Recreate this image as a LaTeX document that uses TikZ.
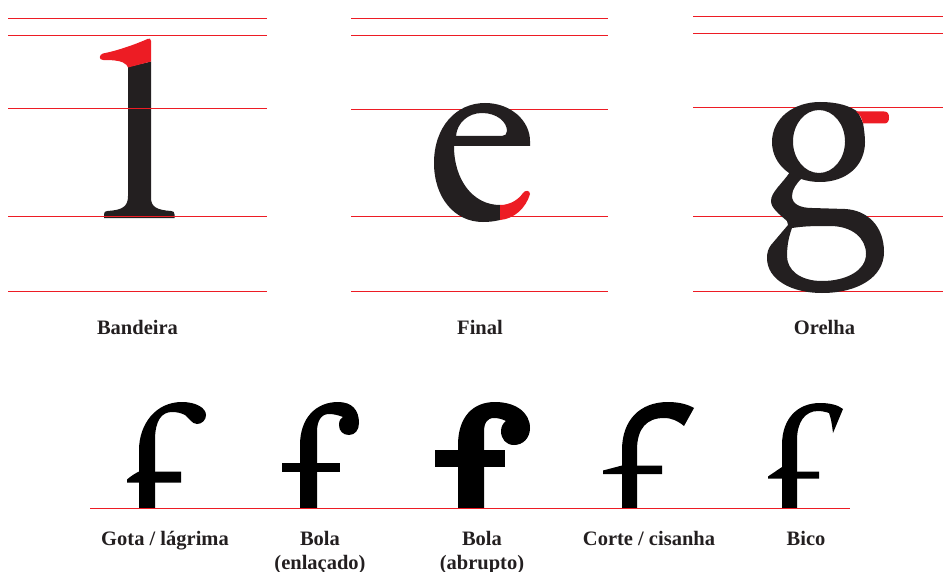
\documentclass[tikz,border=0pt]{standalone}
\usepackage{fontspec}
\setmainfont{Liberation Serif}
\definecolor{guidered}{HTML}{ED1C24}
\definecolor{ink}{HTML}{231F20}
\begin{document}
\begin{tikzpicture}[x=1pt,y=-1pt,
  guide/.style={guidered,line width=0.9pt},
  glyph/.style={fill=ink,draw=none},
  fglyph/.style={fill=black,draw=none},
  part/.style={fill=guidered,draw=none},
  lbl/.style={text=ink,font=\fontsize{20.5}{24}\selectfont\bfseries,anchor=base,inner sep=0pt}]
\useasboundingbox (0,0) rectangle (944,572);

% l with its flag
\fill[glyph] (128,67) -- (151,61.5) -- (151,198) .. controls (151,207) and (157,210) .. (171,211)
  .. controls (173.5,211) and (174.5,212) .. (174.5,214.5) -- (174.5,218) -- (104,218) -- (104,214.5)
  .. controls (104,212) and (105,211) .. (107.5,211) .. controls (122,210) and (128,207) .. (128,196) -- cycle;
\fill[part] (128,67.5) -- (151,61.5) -- (151,41) .. controls (151,38.5) and (149.5,38) .. (147.5,39)
  .. controls (134,45) and (116,51) .. (103,53.5) .. controls (99,54.5) and (98.5,60) .. (103,60)
  .. controls (112,60) and (119,60.5) .. (123,62.5) .. controls (126,64) and (127.5,65.5) .. (128,67.5) -- cycle;
\foreach \y in {18,35,108.5,216.5,291}
  \draw[guide] (8,\y) -- (267,\y);

% e with its terminal
\foreach \y in {18,35,109,216.5,291}
  \draw[guide] (351,\y) -- (608,\y);
\fill[glyph,even odd rule] (500,205) -- (500,220) .. controls (494,221.5) and (488,222) .. (483,222)
  .. controls (454,222) and (434,197) .. (434,163) .. controls (434,127) and (456,103) .. (485,103)
  .. controls (511,103) and (530,121) .. (530,141) -- (530,146) -- (454,146)
  .. controls (454,180) and (473,205) .. (500,205) -- cycle
  (456,136) .. controls (457,123) and (468,113) .. (482,113) .. controls (497,113) and (507,122) .. (507,131)
  .. controls (507,134) and (505,136) .. (502,136) -- cycle;
\fill[part] (500,205) .. controls (510,205) and (518,200) .. (523,193) .. controls (525,190) and (530,190) .. (530,194)
  .. controls (526,208) and (514,219) .. (500,220) -- cycle;

% g with its ear
\foreach \y in {16,33.5,107.5,216,291}
  \draw[guide] (693,\y) -- (943,\y);
\fill[glyph,even odd rule] (820,102) .. controls (838,102) and (850,106) .. (858,112) -- (863,123)
  .. controls (864,129) and (865,136) .. (865,142) .. controls (865,166) and (846,182) .. (820,182)
  .. controls (793,182) and (772,165) .. (772,142) .. controls (772,118) and (794,102) .. (820,102) -- cycle
  (819,141.5) ellipse [x radius=26, y radius=31.5];
\fill[glyph,even odd rule] (790,172) .. controls (782,184) and (771,192) .. (771,201)
  .. controls (771,208) and (779,214) .. (787,221) -- (788,225) -- (771,245)
  .. controls (768,249) and (767,253) .. (767,258) .. controls (767,280) and (792,293) .. (822,293)
  .. controls (858,293) and (884,277) .. (884,252) .. controls (884,226) and (867,210) .. (845,209)
  -- (812,208) .. controls (800,208) and (792,204) .. (792,196) .. controls (792,189) and (797,183) .. (802,178) -- cycle
  (792,228) .. controls (805,226) and (815,226) .. (830,226) .. controls (852,226) and (866,238) .. (866,254)
  .. controls (866,270) and (847,281) .. (822,281) .. controls (800,281) and (787,270) .. (787,256)
  .. controls (787,245) and (789,236) .. (792,228) -- cycle;
\fill[part] (856,111.5) -- (884,111.5) .. controls (887.5,111.5) and (889,113.5) .. (889,117.5)
  .. controls (889,121.5) and (887.5,123.5) .. (884,123.5) -- (863,123.5)
  .. controls (862,118) and (859.5,114) .. (856,111.5) -- cycle;

\node[lbl] (bandeira) at (137.5,334) {Bandeira};
\node[lbl] (final) at (480,334) {Final};
\node[lbl] (orelha) at (824.5,334) {Orelha};

% terminals of f
\fill[fglyph] (139,508) -- (139,450) .. controls (139,425) and (155,402) .. (182,402)
  .. controls (196,402) and (206,408) .. (206,415) .. controls (206,420) and (202,424) .. (197,424)
  .. controls (192,424) and (189,418) .. (185,415) .. controls (181,413) and (177,412) .. (172,412)
  .. controls (162,412) and (155,420) .. (155,440) -- (155,508) -- cycle;
\fill[fglyph] (139,471.5) -- (181,471.5) -- (181,482.5) -- (127,482.5) -- (127,479.5)
  .. controls (131,476) and (135,473.5) .. (139,471.5) -- cycle;

\fill[fglyph] (300,508) -- (300,445) .. controls (300,418) and (316,402) .. (338,402)
  .. controls (352,402) and (359,410) .. (359,423) .. controls (359,430) and (355,435) .. (349,435)
  .. controls (343,435) and (339,431) .. (339,425) .. controls (339,420) and (341,418) .. (343,417)
  .. controls (338,415) and (333,414) .. (329,414) .. controls (321,414) and (317,421) .. (317,432)
  -- (317,508) -- cycle;
\fill[fglyph] (282,463) rectangle (340,472);

\fill[fglyph] (458,508) -- (458,445) .. controls (458,418) and (472,402) .. (495,402)
  .. controls (515,402) and (530,412) .. (530,428) .. controls (530,438) and (523,445) .. (514,445)
  .. controls (506,445) and (501,439) .. (501,431) .. controls (501,427) and (503,423) .. (506,421)
  .. controls (502,419) and (498,418) .. (494,418) .. controls (487,418) and (484,423) .. (484,432)
  -- (484,508) -- cycle;
\fill[fglyph] (435,450) rectangle (505,467);

\fill[fglyph] (622,508) -- (622,450) .. controls (622,420) and (640,402) .. (668,402)
  .. controls (678,402) and (687,404) .. (694,408) -- (684,426)
  .. controls (678,421) and (672,418) .. (664,418) .. controls (647,418) and (637,428) .. (637,450)
  -- (637,508) -- cycle;
\fill[fglyph] (603,470.5) -- (622,465.5) -- (662,465.5) -- (662,474) -- (603,474) -- cycle;

\fill[fglyph] (782,508) -- (782,445) .. controls (782,418) and (798,403) .. (820,403)
  .. controls (830,403) and (838,405) .. (843,409) -- (833,433)
  .. controls (832,425) and (831,418) .. (829,413) .. controls (826,412) and (822,411) .. (818,411)
  .. controls (805,411) and (797,422) .. (797,440) -- (797,508) -- cycle;
\fill[fglyph] (768,476.5) -- (782,467) -- (782,471.5) -- (819,471.5) -- (819,478.5) -- (768,478.5) -- cycle;

\draw[guide] (90,508) -- (850,508);

\node[lbl] (gota) at (165,545) {Gota / lágrima};
\node[lbl] (bolaA) at (320,545) {Bola};
\node[lbl] (bolaAsub) at (320,569) {(enlaçado)};
\node[lbl] (bolaB) at (482,545) {Bola};
\node[lbl] (bolaBsub) at (482,569) {(abrupto)};
\node[lbl] (corte) at (649,545) {Corte / cisanha};
\node[lbl] (bico) at (806,545) {Bico};
\end{tikzpicture}
\end{document}
